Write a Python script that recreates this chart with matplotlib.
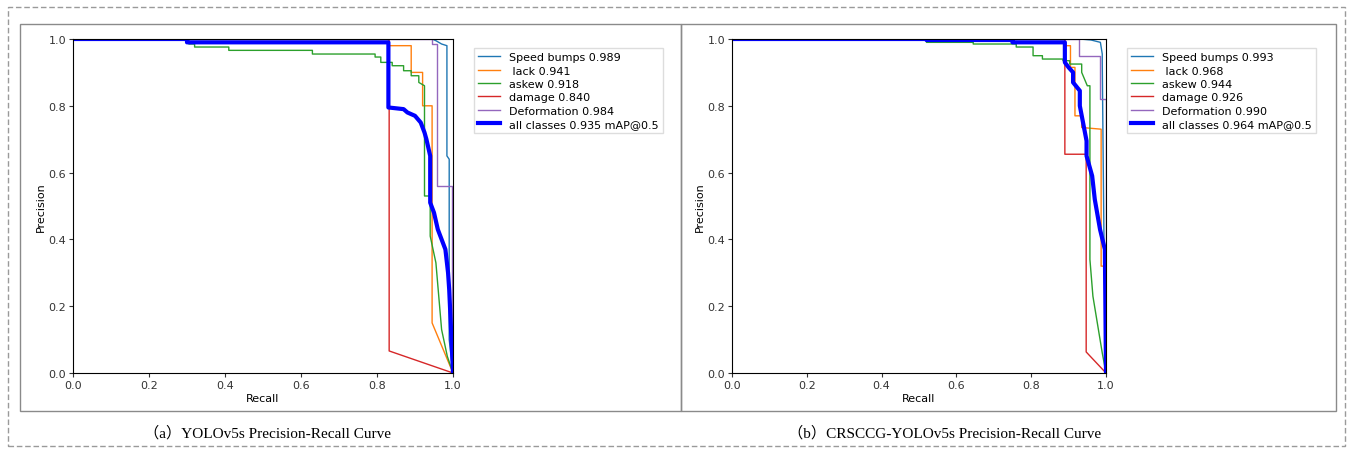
import matplotlib
matplotlib.use("Agg")
from matplotlib import pyplot as plt
from matplotlib.patches import Rectangle

# ---- data (recall, precision vertices) ----
labels_a = ["Speed bumps 0.989", " lack 0.941", "askew 0.918", "damage 0.840",
            "Deformation 0.984", "all classes 0.935 mAP@0.5"]
labels_b = ["Speed bumps 0.993", " lack 0.968", "askew 0.944", "damage 0.926",
            "Deformation 0.990", "all classes 0.964 mAP@0.5"]

# (a) YOLOv5s
speed_r_a = [0, 0.945, 0.955, 0.97, 0.984, 0.984, 0.99, 0.99, 1.0]
speed_p_a = [1, 1, 0.995, 0.985, 0.98, 0.65, 0.64, 0.10, 0.0]
lack_r_a = [0, 0.83, 0.83, 0.89, 0.89, 0.92, 0.92, 0.945, 0.945, 1.0]
lack_p_a = [1, 1, 0.98, 0.98, 0.90, 0.90, 0.80, 0.80, 0.15, 0.0]
askew_r_a = [0, 0.305, 0.305, 0.32, 0.32, 0.41, 0.41, 0.63, 0.63, 0.795, 0.795,
             0.81, 0.81, 0.84, 0.84, 0.87, 0.87, 0.89, 0.89, 0.91, 0.91, 0.925,
             0.925, 0.94, 0.94, 0.955, 0.97, 0.985, 1.0]
askew_p_a = [1, 1, 0.985, 0.985, 0.976, 0.976, 0.966, 0.966, 0.955, 0.955, 0.946,
             0.946, 0.93, 0.93, 0.92, 0.92, 0.905, 0.905, 0.89, 0.89, 0.87, 0.86,
             0.53, 0.53, 0.41, 0.33, 0.13, 0.05, 0.0]
damage_r_a = [0, 0.832, 0.832, 1.0]
damage_p_a = [1, 1, 0.066, 0.0]
deform_r_a = [0, 0.945, 0.945, 0.958, 0.958, 0.997, 0.997]
deform_p_a = [1, 1, 0.985, 0.985, 0.56, 0.56, 0.0]
all_r_a = [0, 0.30, 0.30, 0.83, 0.83, 0.87, 0.88, 0.90, 0.915, 0.925, 0.93, 0.94,
           0.94, 0.95, 0.96, 0.97, 0.98, 0.987, 0.99, 1.0]
all_p_a = [1, 1, 0.99, 0.99, 0.795, 0.79, 0.78, 0.77, 0.75, 0.72, 0.70, 0.65,
           0.51, 0.48, 0.43, 0.40, 0.37, 0.30, 0.25, 0.0]

# (b) CRSCCG-YOLOv5s
speed_r_b = [0, 0.93, 0.96, 0.985, 0.99, 0.99, 0.995, 1.0]
speed_p_b = [1, 1, 0.997, 0.99, 0.955, 0.93, 0.35, 0.0]
lack_r_b = [0, 0.89, 0.89, 0.905, 0.905, 0.917, 0.917, 0.935, 0.935, 0.987,
            0.987, 1.0, 1.0]
lack_p_b = [1, 1, 0.98, 0.98, 0.915, 0.915, 0.77, 0.77, 0.735, 0.73, 0.32, 0.32, 0.0]
askew_r_b = [0, 0.52, 0.52, 0.645, 0.645, 0.76, 0.76, 0.805, 0.805, 0.83, 0.83,
             0.885, 0.885, 0.903, 0.903, 0.935, 0.935, 0.95, 0.957, 0.957, 0.965,
             0.99, 1.0]
askew_p_b = [1, 1, 0.99, 0.99, 0.985, 0.985, 0.976, 0.976, 0.95, 0.95, 0.94, 0.94,
             0.935, 0.935, 0.925, 0.925, 0.90, 0.86, 0.86, 0.34, 0.23, 0.06, 0.0]
damage_r_b = [0, 0.89, 0.89, 0.947, 0.947, 1.0]
damage_p_b = [1, 1, 0.655, 0.655, 0.063, 0.0]
deform_r_b = [0, 0.928, 0.928, 0.984, 0.984, 1.0, 1.0]
deform_p_b = [1, 1, 0.95, 0.95, 0.82, 0.82, 0.0]
all_r_b = [0, 0.52, 0.52, 0.75, 0.75, 0.89, 0.89, 0.90, 0.912, 0.912, 0.93, 0.93,
           0.948, 0.948, 0.963, 0.97, 0.984, 0.997, 1.0]
all_p_b = [1, 1, 0.997, 0.997, 0.99, 0.99, 0.93, 0.915, 0.90, 0.87, 0.845, 0.80,
           0.695, 0.65, 0.59, 0.52, 0.43, 0.37, 0.0]

curves_a = [(speed_r_a, speed_p_a), (lack_r_a, lack_p_a), (askew_r_a, askew_p_a),
            (damage_r_a, damage_p_a), (deform_r_a, deform_p_a)]
curves_b = [(speed_r_b, speed_p_b), (lack_r_b, lack_p_b), (askew_r_b, askew_p_b),
            (damage_r_b, damage_p_b), (deform_r_b, deform_p_b)]

captions = ["（a）YOLOv5s Precision-Recall Curve",
            "（b）CRSCCG-YOLOv5s Precision-Recall Curve"]

W, H = 1351, 452
fig = plt.figure(figsize=(W / 100, H / 100), dpi=100)


def px_rect(x0, y0, x1, y1, **kw):
    # rectangle given in pixel coords (origin top-left)
    r = Rectangle((x0 / W, 1 - y1 / H), (x1 - x0) / W, (y1 - y0) / H,
                  transform=fig.transFigure, fill=False, **kw)
    fig.add_artist(r)


# outer dashed frame and the two panel boxes
px_rect(8, 8, 1345, 447, ec="#9a9a9a", lw=1.0, ls=(0, (4, 2)))
px_rect(20, 25, 681, 412, ec="#8a8a8a", lw=1.0)
px_rect(681, 25, 1336, 412, ec="#8a8a8a", lw=1.0)


def make_panel(ax, curves, all_curve, labels):
    for (r, p), lab in zip(curves, labels[:5]):
        ax.plot(r, p, lw=1, label=lab)
    ax.plot(all_curve[0], all_curve[1], lw=3, color="blue", label=labels[5])
    ax.set_xlim(0, 1)
    ax.set_ylim(0, 1)
    ax.set_xlabel("Recall", fontsize=8, labelpad=2)
    ax.set_ylabel("Precision", fontsize=8, labelpad=2)
    ax.tick_params(labelsize=8, length=3, pad=2, colors="#333333")
    ax.legend(bbox_to_anchor=(1.04, 0.99), loc="upper left", fontsize=8,
              labelspacing=0.3, handlelength=2.0, borderpad=0.4,
              fancybox=False, framealpha=1, edgecolor="#dddddd")


ax1 = fig.add_axes([73 / W, 1 - 374 / H, 380 / W, 334 / H])
make_panel(ax1, curves_a, (all_r_a, all_p_a), labels_a)
ax2 = fig.add_axes([732 / W, 1 - 374 / H, 374 / W, 334 / H])
make_panel(ax2, curves_b, (all_r_b, all_p_b), labels_b)

cap_font = ["Liberation Serif", "Noto Sans CJK SC"]
fig.text(268 / W, 1 - 433 / H, captions[0], ha="center", va="center",
         fontsize=11, family=cap_font)
fig.text(945 / W, 1 - 433 / H, captions[1], ha="center", va="center",
         fontsize=11, family=cap_font)

plt.savefig("out.png", dpi=100)
